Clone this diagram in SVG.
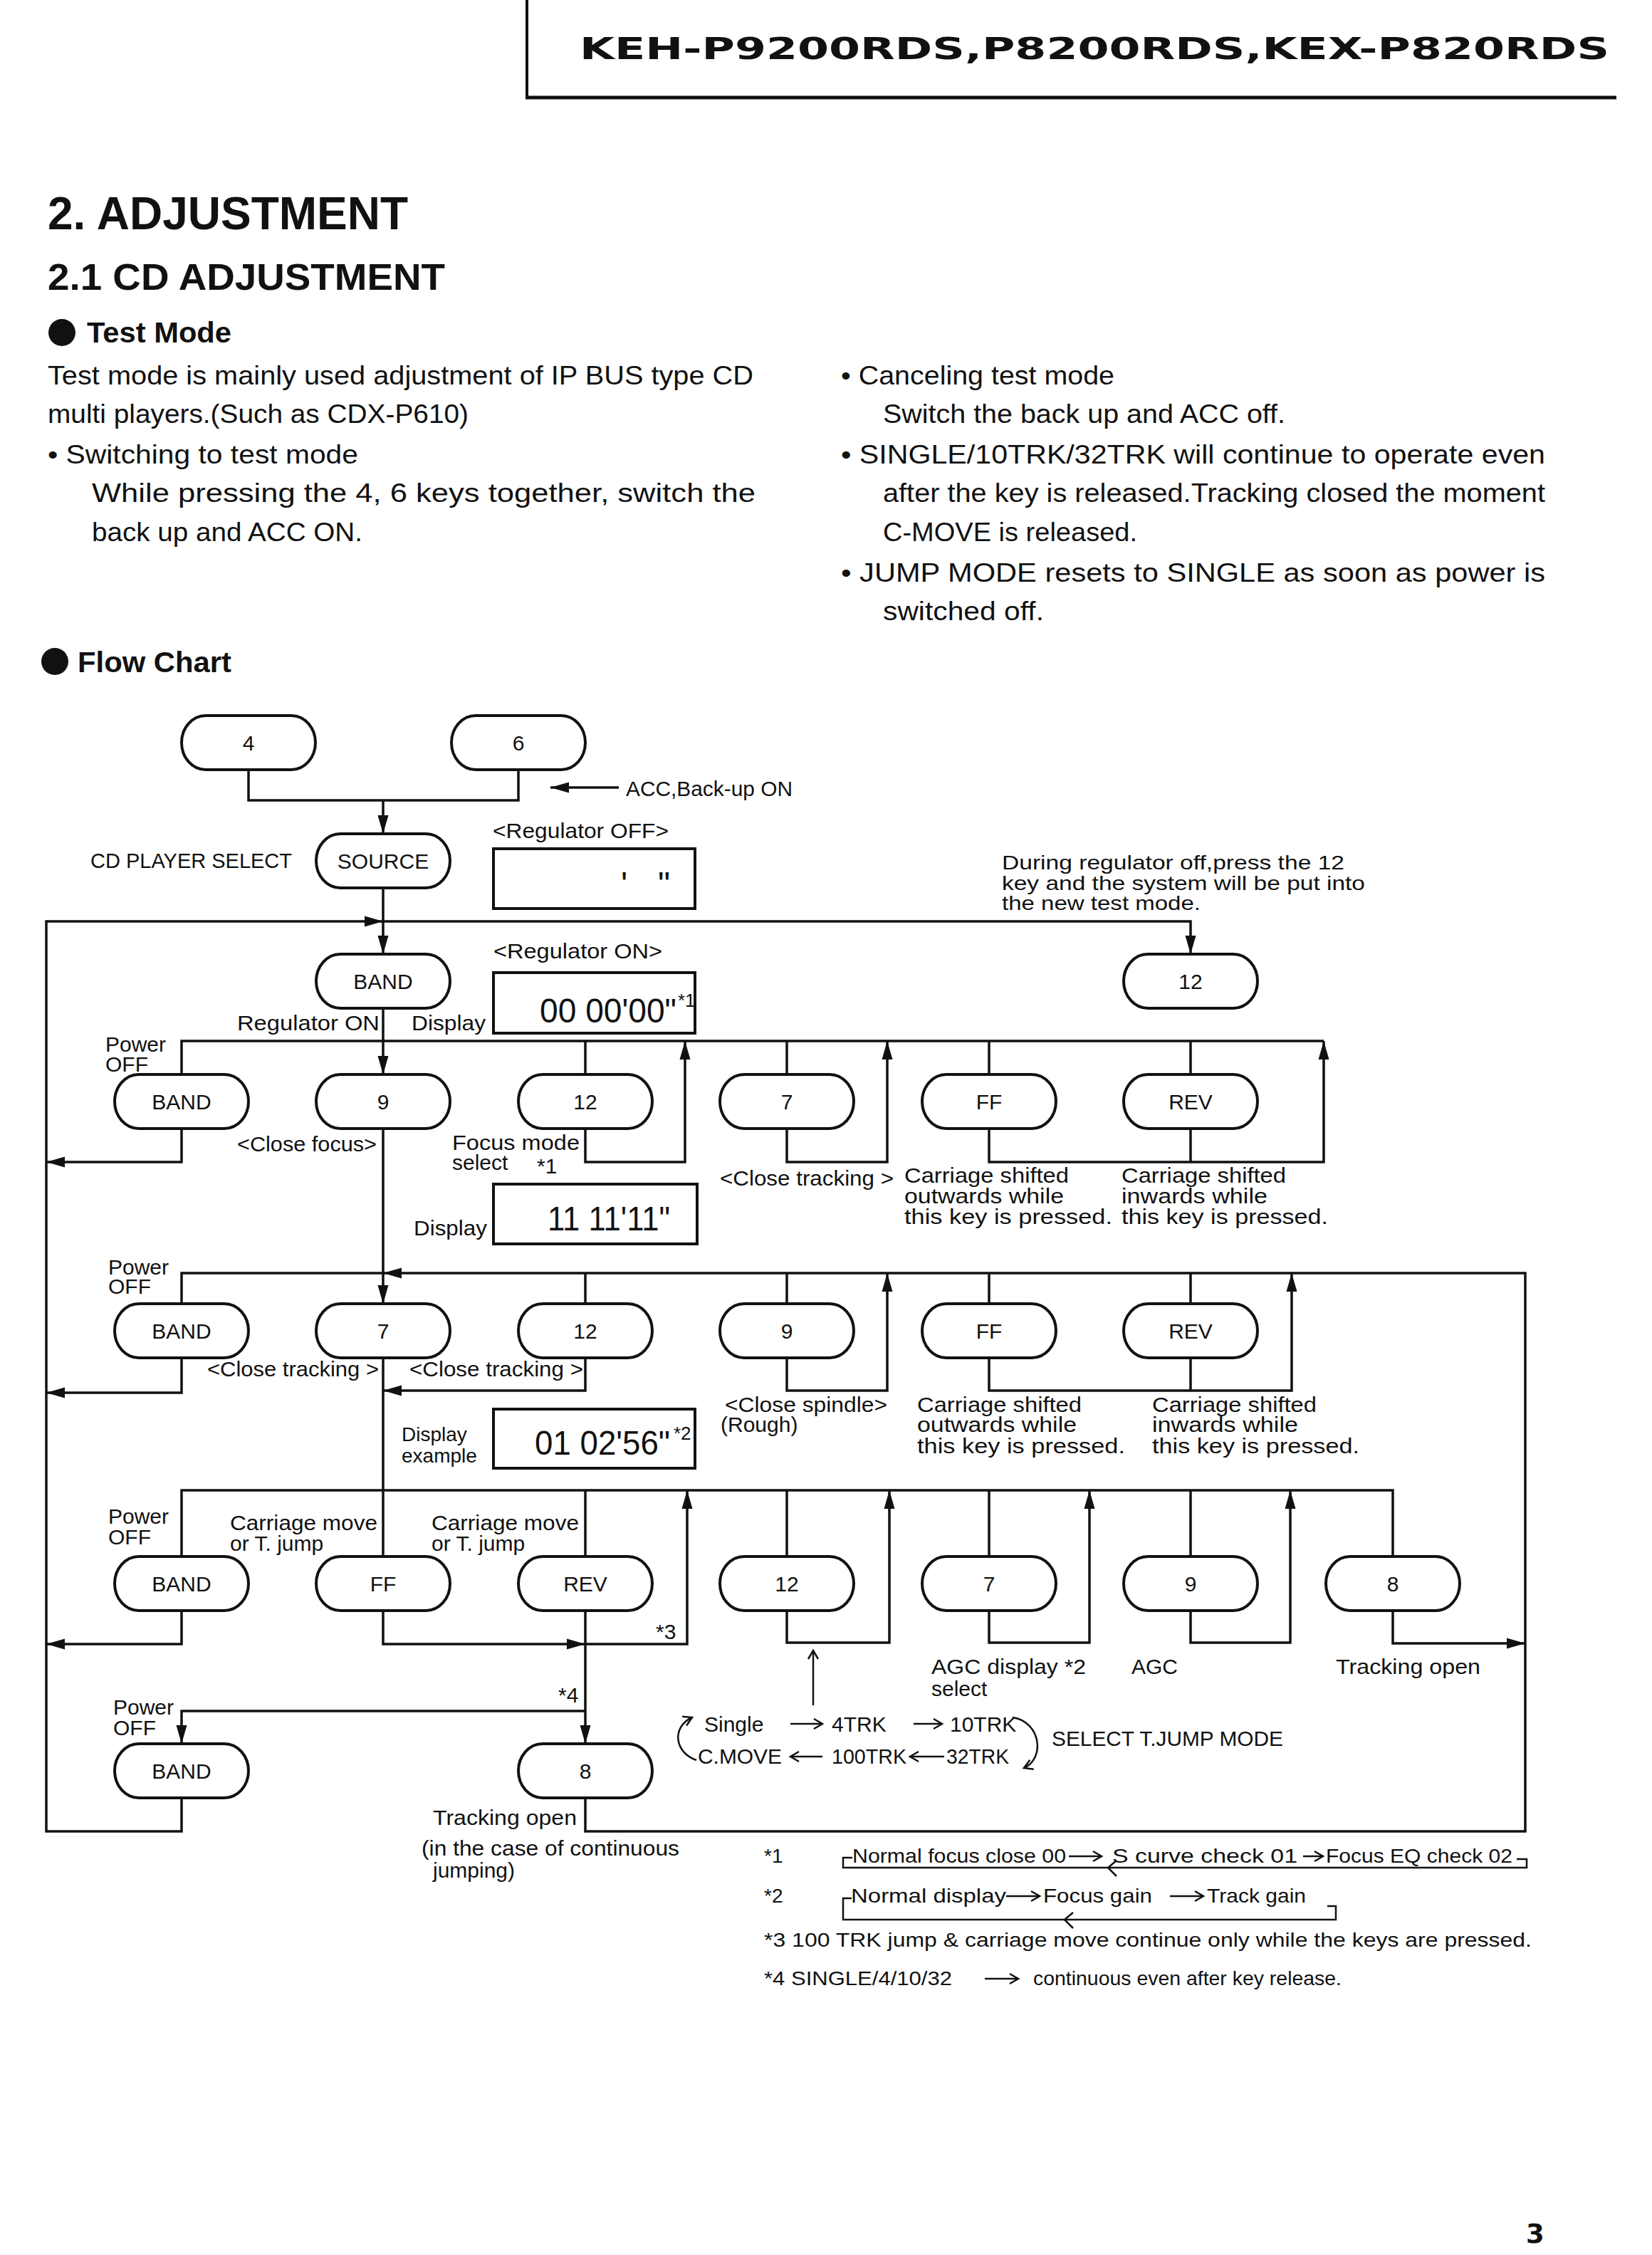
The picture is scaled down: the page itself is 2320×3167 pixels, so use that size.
<svg xmlns="http://www.w3.org/2000/svg" width="2320" height="3167" viewBox="0 0 2320 3167">
<style>
.bg{fill:#fff}
.t{font-family:"Liberation Sans",Arial,sans-serif;fill:#111}
.b{font-weight:bold}
.p{font-size:36px}
.c{font-size:30px}
.f{font-size:28px}
.m{text-anchor:middle}
.ln{fill:none;stroke:#111;stroke-width:3.5}
.th{fill:none;stroke:#111;stroke-width:2.5}
.nd{fill:#fff;stroke:#111;stroke-width:4}
.box{fill:#fff;stroke:#111;stroke-width:4}
.seg{font-family:"Liberation Sans",Arial,sans-serif;fill:#111;font-size:48px}
</style>
<defs>
<marker id="ah" markerUnits="userSpaceOnUse" markerWidth="28" markerHeight="18" refX="26" refY="9" orient="auto"><path d="M0,1.5 L26,9 L0,16.5 z" fill="#111"/></marker>
<marker id="oa" markerUnits="userSpaceOnUse" markerWidth="18" markerHeight="18" refX="15" refY="9" orient="auto"><path d="M3,2 L15,9 L3,16" fill="none" stroke="#111" stroke-width="2.5"/></marker>
</defs>
<rect class="bg" x="0" y="0" width="2320" height="3167"/>

<g id="header">
<line x1="740" y1="0" x2="740" y2="138" stroke="#111" stroke-width="4"/>
<line x1="738" y1="137" x2="2270" y2="137" stroke="#111" stroke-width="5"/>
<text x="814" y="83" font-family="DejaVu Sans,sans-serif" font-weight="bold" font-size="42" fill="#111" textLength="1446" lengthAdjust="spacingAndGlyphs">KEH-P9200RDS,P8200RDS,KEX-P820RDS</text>
</g>

<g id="intro">
<text class="t b" x="67" y="322" font-size="64" textLength="506" lengthAdjust="spacingAndGlyphs">2. ADJUSTMENT</text>
<text class="t b" x="67" y="407" font-size="52" textLength="558" lengthAdjust="spacingAndGlyphs">2.1 CD ADJUSTMENT</text>
<circle cx="87" cy="467" r="19" fill="#111"/>
<text class="t b" x="122" y="481" font-size="40" textLength="203" lengthAdjust="spacingAndGlyphs">Test Mode</text>
<text class="t p" x="67" y="540" textLength="991" lengthAdjust="spacingAndGlyphs">Test mode is mainly used adjustment of IP BUS type CD</text>
<text class="t p" x="67" y="594" textLength="591" lengthAdjust="spacingAndGlyphs">multi players.(Such as CDX-P610)</text>
<text class="t p" x="67" y="651" textLength="436" lengthAdjust="spacingAndGlyphs">• Switching to test mode</text>
<text class="t p" x="129" y="705" textLength="932" lengthAdjust="spacingAndGlyphs">While pressing the 4, 6 keys together, switch the</text>
<text class="t p" x="129" y="760" textLength="380" lengthAdjust="spacingAndGlyphs">back up and ACC ON.</text>
<text class="t p" x="1181" y="540" textLength="384" lengthAdjust="spacingAndGlyphs">• Canceling test mode</text>
<text class="t p" x="1240" y="594" textLength="565" lengthAdjust="spacingAndGlyphs">Switch the back up and ACC off.</text>
<text class="t p" x="1181" y="651" textLength="989" lengthAdjust="spacingAndGlyphs">• SINGLE/10TRK/32TRK will continue to operate even</text>
<text class="t p" x="1240" y="705" textLength="930" lengthAdjust="spacingAndGlyphs">after the key is released.Tracking closed the moment</text>
<text class="t p" x="1240" y="760" textLength="357" lengthAdjust="spacingAndGlyphs">C-MOVE is released.</text>
<text class="t p" x="1181" y="817" textLength="989" lengthAdjust="spacingAndGlyphs">• JUMP MODE resets to SINGLE as soon as power is</text>
<text class="t p" x="1240" y="871" textLength="226" lengthAdjust="spacingAndGlyphs">switched off.</text>
<circle cx="77" cy="929" r="19" fill="#111"/>
<text class="t b" x="109" y="944" font-size="40" textLength="216" lengthAdjust="spacingAndGlyphs">Flow Chart</text>
</g>

<g id="connectors">
<path class="ln" d="M349,1081 V1124 H728 V1081"/>
<path class="ln" d="M538,1124 V1171" marker-end="url(#ah)"/>
<path class="ln" d="M869,1106 H773" marker-end="url(#ah)"/>
<path class="ln" d="M538,1247 V1340" marker-end="url(#ah)"/>
<path class="ln" d="M255,2525 V2572 H65 V1294 H538" marker-end="url(#ah)"/>
<path class="ln" d="M538,1294 H1672 V1340" marker-end="url(#ah)"/>
<path class="ln" d="M538,1416 V1509" marker-end="url(#ah)"/>
<path class="ln" d="M255,1509 V1462 H1859"/>
<path class="ln" d="M822,1462 V1509 M1105,1462 V1509 M1389,1462 V1509 M1672,1462 V1509"/>
<path class="ln" d="M255,1585 V1632 H65" marker-end="url(#ah)"/>
<path class="ln" d="M538,1585 V1831" marker-end="url(#ah)"/>
<path class="ln" d="M822,1585 V1632 H962 V1462" marker-end="url(#ah)"/>
<path class="ln" d="M1105,1585 V1632 H1246 V1462" marker-end="url(#ah)"/>
<path class="ln" d="M1389,1585 V1632 H1859 V1462" marker-end="url(#ah)"/>
<path class="ln" d="M1672,1585 V1632"/>
<path class="ln" d="M822,2525 V2572 H2142 V1788 H538" marker-end="url(#ah)"/>
<path class="ln" d="M538,1788 H255 V1831"/>
<path class="ln" d="M822,1788 V1831 M1105,1788 V1831 M1389,1788 V1831 M1672,1788 V1831"/>
<path class="ln" d="M255,1907 V1956 H65" marker-end="url(#ah)"/>
<path class="ln" d="M538,1907 V2186"/>
<path class="ln" d="M822,1907 V1953 H538" marker-end="url(#ah)"/>
<path class="ln" d="M1105,1907 V1953 H1246 V1788" marker-end="url(#ah)"/>
<path class="ln" d="M1389,1907 V1953 H1814 V1788" marker-end="url(#ah)"/>
<path class="ln" d="M1672,1907 V1953"/>
<path class="ln" d="M255,2186 V2093 H1956 V2186"/>
<path class="ln" d="M822,2093 V2186 M1105,2093 V2186 M1389,2093 V2186 M1672,2093 V2186"/>
<path class="ln" d="M255,2262 V2309 H65" marker-end="url(#ah)"/>
<path class="ln" d="M538,2262 V2309 H822" marker-end="url(#ah)"/>
<path class="ln" d="M822,2309 H965 V2093" marker-end="url(#ah)"/>
<path class="ln" d="M822,2262 V2449" marker-end="url(#ah)"/>
<path class="ln" d="M822,2403 H255 V2449" marker-end="url(#ah)"/>
<path class="ln" d="M1105,2262 V2307 H1249 V2093" marker-end="url(#ah)"/>
<path class="ln" d="M1389,2262 V2307 H1530 V2093" marker-end="url(#ah)"/>
<path class="ln" d="M1672,2262 V2307 H1812 V2093" marker-end="url(#ah)"/>
<path class="ln" d="M1956,2262 V2308 H2142" marker-end="url(#ah)"/>
<path class="th" d="M1142,2395 V2318" marker-end="url(#oa)"/>
<path class="th" d="M978,2472 C948,2462 942,2426 972,2412" marker-end="url(#oa)"/>
<path class="th" d="M1422,2412 C1462,2418 1468,2470 1438,2483" marker-end="url(#oa)"/>
<path class="th" d="M1110,2421 H1155" marker-end="url(#oa)"/>
<path class="th" d="M1283,2421 H1323" marker-end="url(#oa)"/>
<path class="th" d="M1155,2467 H1110" marker-end="url(#oa)"/>
<path class="th" d="M1326,2467 H1278" marker-end="url(#oa)"/>
</g>

<g id="n-4"><rect class="nd" x="255" y="1005" width="188" height="76" rx="34" ry="38"/><text class="t c m" x="349" y="1054">4</text></g>
<g id="n-6"><rect class="nd" x="634" y="1005" width="188" height="76" rx="34" ry="38"/><text class="t c m" x="728" y="1054">6</text></g>
<g id="n-source"><rect class="nd" x="444" y="1171" width="188" height="76" rx="34" ry="38"/><text class="t c m" x="538" y="1220">SOURCE</text></g>
<g id="n-band0"><rect class="nd" x="444" y="1340" width="188" height="76" rx="34" ry="38"/><text class="t c m" x="538" y="1389">BAND</text></g>
<g id="n-12new"><rect class="nd" x="1578" y="1340" width="188" height="76" rx="34" ry="38"/><text class="t c m" x="1672" y="1389">12</text></g>

<g id="n-r1-band"><rect class="nd" x="161" y="1509" width="188" height="76" rx="34" ry="38"/><text class="t c m" x="255" y="1558">BAND</text></g>
<g id="n-r1-9"><rect class="nd" x="444" y="1509" width="188" height="76" rx="34" ry="38"/><text class="t c m" x="538" y="1558">9</text></g>
<g id="n-r1-12"><rect class="nd" x="728" y="1509" width="188" height="76" rx="34" ry="38"/><text class="t c m" x="822" y="1558">12</text></g>
<g id="n-r1-7"><rect class="nd" x="1011" y="1509" width="188" height="76" rx="34" ry="38"/><text class="t c m" x="1105" y="1558">7</text></g>
<g id="n-r1-ff"><rect class="nd" x="1295" y="1509" width="188" height="76" rx="34" ry="38"/><text class="t c m" x="1389" y="1558">FF</text></g>
<g id="n-r1-rev"><rect class="nd" x="1578" y="1509" width="188" height="76" rx="34" ry="38"/><text class="t c m" x="1672" y="1558">REV</text></g>

<g id="n-r2-band"><rect class="nd" x="161" y="1831" width="188" height="76" rx="34" ry="38"/><text class="t c m" x="255" y="1880">BAND</text></g>
<g id="n-r2-7"><rect class="nd" x="444" y="1831" width="188" height="76" rx="34" ry="38"/><text class="t c m" x="538" y="1880">7</text></g>
<g id="n-r2-12"><rect class="nd" x="728" y="1831" width="188" height="76" rx="34" ry="38"/><text class="t c m" x="822" y="1880">12</text></g>
<g id="n-r2-9"><rect class="nd" x="1011" y="1831" width="188" height="76" rx="34" ry="38"/><text class="t c m" x="1105" y="1880">9</text></g>
<g id="n-r2-ff"><rect class="nd" x="1295" y="1831" width="188" height="76" rx="34" ry="38"/><text class="t c m" x="1389" y="1880">FF</text></g>
<g id="n-r2-rev"><rect class="nd" x="1578" y="1831" width="188" height="76" rx="34" ry="38"/><text class="t c m" x="1672" y="1880">REV</text></g>

<g id="n-r3-band"><rect class="nd" x="161" y="2186" width="188" height="76" rx="34" ry="38"/><text class="t c m" x="255" y="2235">BAND</text></g>
<g id="n-r3-ff"><rect class="nd" x="444" y="2186" width="188" height="76" rx="34" ry="38"/><text class="t c m" x="538" y="2235">FF</text></g>
<g id="n-r3-rev"><rect class="nd" x="728" y="2186" width="188" height="76" rx="34" ry="38"/><text class="t c m" x="822" y="2235">REV</text></g>
<g id="n-r3-12"><rect class="nd" x="1011" y="2186" width="188" height="76" rx="34" ry="38"/><text class="t c m" x="1105" y="2235">12</text></g>
<g id="n-r3-7"><rect class="nd" x="1295" y="2186" width="188" height="76" rx="34" ry="38"/><text class="t c m" x="1389" y="2235">7</text></g>
<g id="n-r3-9"><rect class="nd" x="1578" y="2186" width="188" height="76" rx="34" ry="38"/><text class="t c m" x="1672" y="2235">9</text></g>
<g id="n-r3-8"><rect class="nd" x="1862" y="2186" width="188" height="76" rx="34" ry="38"/><text class="t c m" x="1956" y="2235">8</text></g>

<g id="n-r4-band"><rect class="nd" x="161" y="2449" width="188" height="76" rx="34" ry="38"/><text class="t c m" x="255" y="2498">BAND</text></g>
<g id="n-r4-8"><rect class="nd" x="728" y="2449" width="188" height="76" rx="34" ry="38"/><text class="t c m" x="822" y="2498">8</text></g>

<g id="displays">
<rect class="box" x="693" y="1192" width="283" height="84"/>
<text class="seg" x="872" y="1258" font-size="40">'</text>
<text class="seg" x="924" y="1258" font-size="40">"</text>
<rect class="box" x="693" y="1366" width="283" height="85"/>
<text class="seg" x="758" y="1436" textLength="192" lengthAdjust="spacingAndGlyphs">00 00'00"</text>
<text class="t" x="952" y="1414" font-size="26">*1</text>
<rect class="box" x="693" y="1663" width="286" height="84"/>
<text class="seg" x="769" y="1728" textLength="172" lengthAdjust="spacingAndGlyphs">11 11'11"</text>
<rect class="box" x="693" y="1979" width="283" height="83"/>
<text class="seg" x="751" y="2043" textLength="190" lengthAdjust="spacingAndGlyphs">01 02'56"</text>
<text class="t" x="946" y="2022" font-size="26">*2</text>
</g>

<g id="labels">
<text class="t c" x="879" y="1118" textLength="234" lengthAdjust="spacingAndGlyphs">ACC,Back-up ON</text>
<text class="t c" x="127" y="1219" textLength="283" lengthAdjust="spacingAndGlyphs">CD PLAYER SELECT</text>
<text class="t c" x="692" y="1177" textLength="247" lengthAdjust="spacingAndGlyphs">&lt;Regulator OFF&gt;</text>
<text class="t f" x="1407" y="1221" textLength="481" lengthAdjust="spacingAndGlyphs">During regulator off,press the 12</text>
<text class="t f" x="1407" y="1250" textLength="510" lengthAdjust="spacingAndGlyphs">key and the system will be put into</text>
<text class="t f" x="1407" y="1278" textLength="279" lengthAdjust="spacingAndGlyphs">the new test mode.</text>
<text class="t c" x="693" y="1346" textLength="237" lengthAdjust="spacingAndGlyphs">&lt;Regulator ON&gt;</text>
<text class="t c" x="333" y="1447" textLength="200" lengthAdjust="spacingAndGlyphs">Regulator ON</text>
<text class="t c" x="578" y="1447" textLength="104" lengthAdjust="spacingAndGlyphs">Display</text>
<text class="t c" x="148" y="1477">Power</text>
<text class="t c" x="148" y="1505">OFF</text>
<text class="t c" x="333" y="1617" textLength="196" lengthAdjust="spacingAndGlyphs">&lt;Close focus&gt;</text>
<text class="t c" x="635" y="1615" textLength="179" lengthAdjust="spacingAndGlyphs">Focus mode</text>
<text class="t c" x="635" y="1643">select</text>
<text class="t c" x="754" y="1648">*1</text>
<text class="t c" x="581" y="1735" textLength="103" lengthAdjust="spacingAndGlyphs">Display</text>
<text class="t c" x="1011" y="1665" textLength="244" lengthAdjust="spacingAndGlyphs">&lt;Close tracking &gt;</text>
<text class="t c" x="1270" y="1661" textLength="231" lengthAdjust="spacingAndGlyphs">Carriage shifted</text>
<text class="t c" x="1270" y="1690" textLength="224" lengthAdjust="spacingAndGlyphs">outwards while</text>
<text class="t c" x="1270" y="1719" textLength="292" lengthAdjust="spacingAndGlyphs">this key is pressed.</text>
<text class="t c" x="1575" y="1661" textLength="231" lengthAdjust="spacingAndGlyphs">Carriage shifted</text>
<text class="t c" x="1575" y="1690" textLength="205" lengthAdjust="spacingAndGlyphs">inwards while</text>
<text class="t c" x="1575" y="1719" textLength="290" lengthAdjust="spacingAndGlyphs">this key is pressed.</text>

<text class="t c" x="152" y="1790">Power</text>
<text class="t c" x="152" y="1817">OFF</text>
<text class="t c" x="291" y="1933" textLength="241" lengthAdjust="spacingAndGlyphs">&lt;Close tracking &gt;</text>
<text class="t c" x="575" y="1933" textLength="244" lengthAdjust="spacingAndGlyphs">&lt;Close tracking &gt;</text>
<text class="t c" x="1018" y="1983" textLength="228" lengthAdjust="spacingAndGlyphs">&lt;Close spindle&gt;</text>
<text class="t c" x="1012" y="2011">(Rough)</text>
<text class="t c" x="1288" y="1983" textLength="231" lengthAdjust="spacingAndGlyphs">Carriage shifted</text>
<text class="t c" x="1288" y="2011" textLength="224" lengthAdjust="spacingAndGlyphs">outwards while</text>
<text class="t c" x="1288" y="2041" textLength="292" lengthAdjust="spacingAndGlyphs">this key is pressed.</text>
<text class="t c" x="1618" y="1983" textLength="231" lengthAdjust="spacingAndGlyphs">Carriage shifted</text>
<text class="t c" x="1618" y="2011" textLength="205" lengthAdjust="spacingAndGlyphs">inwards while</text>
<text class="t c" x="1618" y="2041" textLength="291" lengthAdjust="spacingAndGlyphs">this key is pressed.</text>
<text class="t f" x="564" y="2024">Display</text>
<text class="t f" x="564" y="2054">example</text>

<text class="t c" x="152" y="2140">Power</text>
<text class="t c" x="152" y="2169">OFF</text>
<text class="t c" x="323" y="2149" textLength="207" lengthAdjust="spacingAndGlyphs">Carriage move</text>
<text class="t c" x="323" y="2178">or T. jump</text>
<text class="t c" x="606" y="2149" textLength="207" lengthAdjust="spacingAndGlyphs">Carriage move</text>
<text class="t c" x="606" y="2178">or T. jump</text>
<text class="t c" x="921" y="2302">*3</text>
<text class="t c" x="784" y="2391">*4</text>
<text class="t c" x="1308" y="2351" textLength="217" lengthAdjust="spacingAndGlyphs">AGC display *2</text>
<text class="t c" x="1308" y="2382">select</text>
<text class="t c" x="1589" y="2351">AGC</text>
<text class="t c" x="1876" y="2351" textLength="203" lengthAdjust="spacingAndGlyphs">Tracking open</text>
<text class="t c" x="159" y="2408">Power</text>
<text class="t c" x="159" y="2437">OFF</text>
<text class="t c" x="608" y="2563" textLength="202" lengthAdjust="spacingAndGlyphs">Tracking open</text>
<text class="t c" x="592" y="2606" textLength="362" lengthAdjust="spacingAndGlyphs">(in the case of continuous</text>
<text class="t c" x="608" y="2637">jumping)</text>

<text class="t c" x="989" y="2432">Single</text>
<text class="t c" x="1168" y="2432">4TRK</text>
<text class="t c" x="1334" y="2432">10TRK</text>
<text class="t c" x="1477" y="2452" textLength="325" lengthAdjust="spacingAndGlyphs">SELECT T.JUMP MODE</text>
<text class="t c" x="980" y="2477" textLength="118" lengthAdjust="spacingAndGlyphs">C.MOVE</text>
<text class="t c" x="1168" y="2477" textLength="105" lengthAdjust="spacingAndGlyphs">100TRK</text>
<text class="t c" x="1329" y="2477" textLength="88" lengthAdjust="spacingAndGlyphs">32TRK</text>
</g>

<g id="footnotes">
<text class="t f" x="1073" y="2616">*1</text>
<text class="t f" x="1197" y="2616" textLength="300" lengthAdjust="spacingAndGlyphs">Normal focus close 00</text>
<path class="th" d="M1501,2607 H1547" marker-end="url(#oa)"/>
<text class="t f" x="1562" y="2616" textLength="260" lengthAdjust="spacingAndGlyphs">S curve check 01</text>
<path class="th" d="M1830,2607 H1858" marker-end="url(#oa)"/>
<text class="t f" x="1862" y="2616" textLength="262" lengthAdjust="spacingAndGlyphs">Focus EQ check 02</text>
<path class="th" stroke-width="3" d="M1197,2609 H1184 V2623 H2144 V2611 H2130"/>
<path class="th" d="M1568,2613 L1556,2623 L1568,2635"/>

<text class="t f" x="1073" y="2672">*2</text>
<text class="t f" x="1195" y="2672" textLength="218" lengthAdjust="spacingAndGlyphs">Normal display</text>
<path class="th" d="M1413,2663 H1460" marker-end="url(#oa)"/>
<text class="t f" x="1465" y="2672" textLength="153" lengthAdjust="spacingAndGlyphs">Focus gain</text>
<path class="th" d="M1643,2663 H1690" marker-end="url(#oa)"/>
<text class="t f" x="1695" y="2672" textLength="139" lengthAdjust="spacingAndGlyphs">Track gain</text>
<path class="th" stroke-width="3" d="M1196,2666 H1184 V2696 H1876 V2677 H1864"/>
<path class="th" d="M1507,2686 L1495,2696 L1507,2708"/>

<text class="t f" x="1073" y="2734" textLength="1078" lengthAdjust="spacingAndGlyphs">*3 100 TRK jump &amp; carriage move continue only while the keys are pressed.</text>
<text class="t f" x="1073" y="2788" textLength="264" lengthAdjust="spacingAndGlyphs">*4 SINGLE/4/10/32</text>
<path class="th" d="M1383,2779 H1430" marker-end="url(#oa)"/>
<text class="t f" x="1451" y="2788" textLength="433" lengthAdjust="spacingAndGlyphs">continuous even after key release.</text>
</g>

<text x="2143" y="3150" font-family="DejaVu Sans,sans-serif" font-weight="bold" font-size="37" fill="#111">3</text>
</svg>
